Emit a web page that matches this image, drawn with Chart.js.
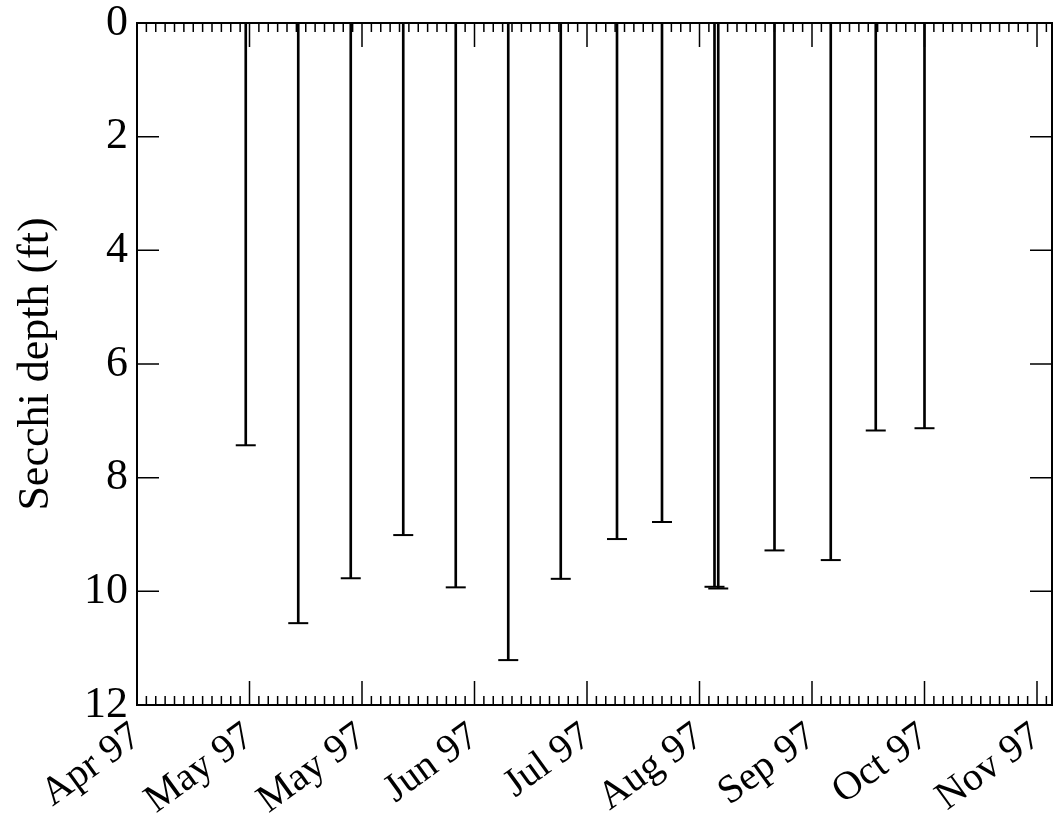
<!DOCTYPE html>
<html>
<head>
<meta charset="utf-8">
<script src="https://cdn.jsdelivr.net/npm/chart.js@4"></script>
<style>
  html, body { margin: 0; padding: 0; background: #fff; overflow: hidden; }
  #wrap { width: 1055px; height: 817px; }
</style>
</head>
<body>
<div id="wrap"><canvas id="secchiChart"></canvas></div>
<script>
// sampling dates and Secchi depths (ft)
var sampleDates = ['1997-04-30', '1997-05-14', '1997-05-28', '1997-06-11', '1997-06-25',
    '1997-07-09', '1997-07-23', '1997-08-07', '1997-08-19', '1997-09-02', '1997-09-03',
    '1997-09-18', '1997-10-03', '1997-10-15', '1997-10-28'];
var secchiDepth = [7.43, 10.56, 9.77, 9.01, 9.93, 11.21, 9.78, 9.08, 8.78, 9.92, 9.95,
    9.28, 9.45, 7.17, 7.13];

// x axis is days since 1 Apr 1997, major ticks every 30 days
var axisStart = '1997-04-01';
var xMaxDay = 244;
var xTickDays = [0, 30, 60, 90, 120, 150, 180, 210, 240];
var xTickLabels = ['Apr 97', 'May 97', 'May 97', 'Jun 97', 'Jul 97', 'Aug 97', 'Sep 97', 'Oct 97', 'Nov 97'];
var yTickValues = [0, 2, 4, 6, 8, 10, 12];

function dayOf(s) {
    return (Date.parse(s) - Date.parse(axisStart)) / 86400000;
}

var sampleDays = sampleDates.map(dayOf);

// frame + inward tick marks on all four sides
var frameTicks = {
    id: 'frameTicks',
    afterDatasetsDraw: function(chart) {
        var ctx = chart.ctx, a = chart.chartArea;
        var x = chart.scales.x, y = chart.scales.y;
        ctx.save();
        ctx.strokeStyle = '#000';
        ctx.lineWidth = 2;
        ctx.strokeRect(a.left, a.top, a.right - a.left, a.bottom - a.top);
        ctx.lineWidth = 1.5;
        ctx.beginPath();
        for (var d = 0; d <= xMaxDay; d += 2.5) {
            var px = x.getPixelForValue(d);
            var len = xTickDays.indexOf(d) >= 0 ? 24 : 9;
            ctx.moveTo(px, a.bottom);
            ctx.lineTo(px, a.bottom - len);
            ctx.moveTo(px, a.top);
            ctx.lineTo(px, a.top + len);
        }
        yTickValues.forEach(function(v) {
            var py = y.getPixelForValue(v);
            ctx.moveTo(a.left, py);
            ctx.lineTo(a.left + 22, py);
            ctx.moveTo(a.right, py);
            ctx.lineTo(a.right - 22, py);
        });
        ctx.stroke();
        ctx.restore();
    }
};

var serif = "'Liberation Serif', 'Times New Roman', serif";

var ctx = document.getElementById('secchiChart').getContext('2d');
var secchiChart = new Chart(ctx, {
    type: 'bar',
    data: {
        datasets: [{
            label: 'Secchi depth',
            data: sampleDays.map(function(d, i) { return {x: d, y: [0, secchiDepth[i]]}; }),
            backgroundColor: '#000',
            borderWidth: 0,
            barThickness: 2
        }, {
            type: 'scatter',
            label: 'cap',
            data: sampleDays.map(function(d, i) { return {x: d, y: secchiDepth[i]}; }),
            pointStyle: 'line',
            radius: 10,
            borderColor: '#000',
            borderWidth: 2
        }]
    },
    options: {
        responsive: true,
        maintainAspectRatio: false,
        animation: false,
        events: [],
        layout: { autoPadding: false, padding: { top: 23, right: 3, left: 0, bottom: 0 } },
        plugins: {
            legend: { display: false },
            tooltip: { enabled: false }
        },
        scales: {
            x: {
                type: 'linear',
                min: 0,
                max: xMaxDay,
                offset: false,
                grid: { display: false, drawTicks: false, offset: false },
                border: { display: false },
                afterBuildTicks: function(scale) {
                    scale.ticks = xTickDays.map(function(v) { return {value: v}; });
                },
                afterFit: function(scale) {
                    scale.height = 112;
                    scale.paddingLeft = 0;
                    scale.paddingRight = 0;
                },
                ticks: {
                    autoSkip: false,
                    maxRotation: 36,
                    minRotation: 36,
                    padding: 8,
                    color: '#000',
                    font: { family: serif, size: 40 },
                    callback: function(v) {
                        var i = xTickDays.indexOf(v);
                        return i >= 0 ? xTickLabels[i] : '';
                    }
                }
            },
            y: {
                type: 'linear',
                reverse: true,
                min: 0,
                max: 12,
                grid: { display: false, drawTicks: false },
                border: { display: false },
                afterBuildTicks: function(scale) {
                    scale.ticks = yTickValues.map(function(v) { return {value: v}; });
                },
                afterFit: function(scale) {
                    scale.width = 137;
                    scale.paddingTop = 0;
                    scale.paddingBottom = 0;
                },
                ticks: {
                    padding: 9,
                    color: '#000',
                    font: { family: serif, size: 44 }
                },
                title: {
                    display: true,
                    text: 'Secchi depth (ft)',
                    color: '#000',
                    padding: { top: 10 },
                    font: { family: serif, size: 44 }
                }
            }
        }
    },
    plugins: [frameTicks]
});
</script>
</body>
</html>
